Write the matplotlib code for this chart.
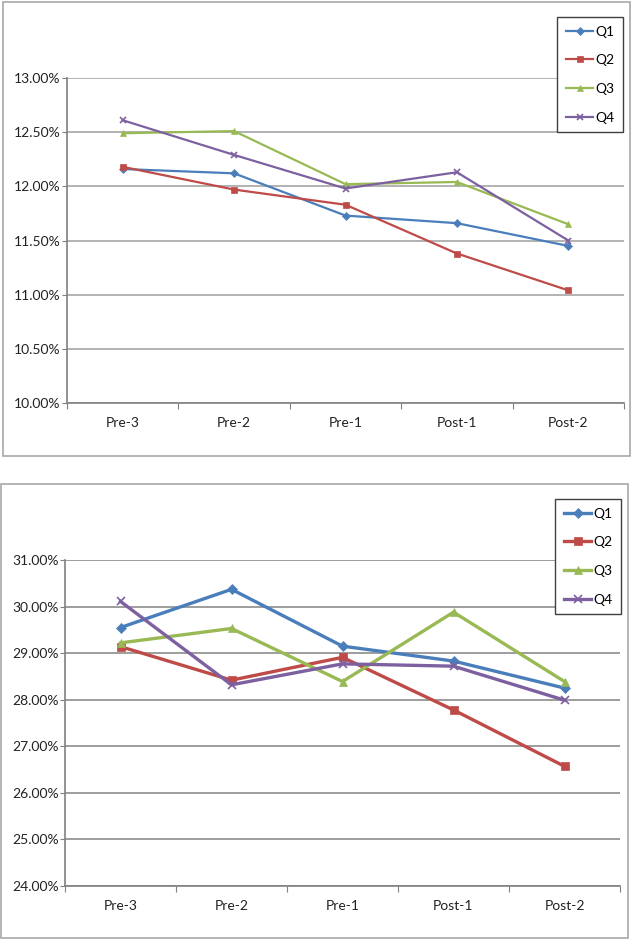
import matplotlib
matplotlib.use("Agg")
import matplotlib.pyplot as plt
from matplotlib.patches import Rectangle
from matplotlib.ticker import FuncFormatter, FixedLocator

categories = ["Pre-3", "Pre-2", "Pre-1", "Post-1", "Post-2"]
series = ["Q1", "Q2", "Q3", "Q4"]

# top panel (%)
top_q1 = [12.16, 12.12, 11.73, 11.66, 11.45]
top_q2 = [12.18, 11.97, 11.83, 11.38, 11.04]
top_q3 = [12.49, 12.51, 12.02, 12.04, 11.65]
top_q4 = [12.61, 12.29, 11.98, 12.13, 11.50]

# bottom panel (%)
bot_q1 = [29.55, 30.37, 29.15, 28.83, 28.25]
bot_q2 = [29.14, 28.42, 28.91, 27.78, 26.57]
bot_q3 = [29.22, 29.53, 28.39, 29.88, 28.39]
bot_q4 = [30.11, 28.32, 28.77, 28.72, 27.99]

colors = ["#4A7EBB", "#BE4B48", "#98B954", "#7D60A0"]
markers = ["D", "s", "^", "x"]

plt.rcParams["font.family"] = ["Lato", "DejaVu Sans"]

W, H = 633, 939
fig = plt.figure(figsize=(W / 100, H / 100), dpi=100)


def px_axes(x0, y0, x1, y1):
    return fig.add_axes([x0 / W, 1 - y1 / H, (x1 - x0) / W, (y1 - y0) / H])


def frame(x0, y0, x1, y1):
    fig.patches.append(Rectangle((x0 / W, 1 - y1 / H), (x1 - x0) / W, (y1 - y0) / H,
                                 transform=fig.transFigure, fill=False,
                                 edgecolor="#a8a8a8", linewidth=1.2))


def panel(box, ax_px, data, ylim, yticks, lw, ms, grid_c, leg_px):
    frame(*box)
    ax = px_axes(*ax_px)
    x = range(len(categories))
    for vals, c, m, name in zip(data, colors, markers, series):
        size = ms * (0.85 if m == "D" else 1.0)
        ax.plot(x, vals, color=c, marker=m, markersize=size, linewidth=lw,
                markeredgewidth=1.2 if m == "x" else 0.5, markeredgecolor=c,
                label=name, zorder=3)
    ax.set_xlim(-0.5, len(categories) - 0.5)
    ax.set_ylim(*ylim)
    ax.set_yticks(yticks)
    ax.yaxis.set_major_formatter(FuncFormatter(lambda v, p: f"{v:.2f}%"))
    ax.grid(axis="y", color=grid_c, linewidth=1.2, zorder=0)
    ax.xaxis.set_major_locator(FixedLocator([i - 0.5 for i in range(len(categories) + 1)]))
    ax.xaxis.set_minor_locator(FixedLocator(list(x)))
    ax.set_xticklabels([], minor=False)
    ax.set_xticklabels(categories, minor=True)
    ax.tick_params(axis="x", which="major", length=4, color="#808080", direction="out")
    ax.tick_params(axis="x", which="minor", length=0, pad=10, labelsize=10, labelcolor="#222222")
    ax.tick_params(axis="y", length=3.5, color="#808080", pad=1, labelsize=10, labelcolor="#222222")
    for s in ["top", "right"]:
        ax.spines[s].set_visible(False)
    for s in ["left", "bottom"]:
        ax.spines[s].set_color("#808080")
        ax.spines[s].set_linewidth(1.2)
    lx, ly = leg_px
    leg = ax.legend(loc="upper left", bbox_to_anchor=(lx / W, 1 - ly / H),
                    bbox_transform=fig.transFigure, fancybox=False, framealpha=1,
                    edgecolor="#404040", fontsize=10, handlelength=2.0,
                    handletextpad=0.15, labelspacing=1.2, borderpad=0.62,
                    borderaxespad=0)
    leg.get_frame().set_linewidth(1.0)
    leg.set_zorder(5)
    return ax


panel((3, 2, 630, 456), (67, 78, 624, 403),
      [top_q1, top_q2, top_q3, top_q4], (10, 13),
      [10, 10.5, 11, 11.5, 12, 12.5, 13], 1.6, 5, "#a6a6a6", (557, 17))

panel((1, 484, 628, 938), (65, 560, 620, 886),
      [bot_q1, bot_q2, bot_q3, bot_q4], (24, 31),
      list(range(24, 32)), 2.4, 6, "#8c8c8c", (555, 499))

fig.savefig("out.png", dpi=100)
